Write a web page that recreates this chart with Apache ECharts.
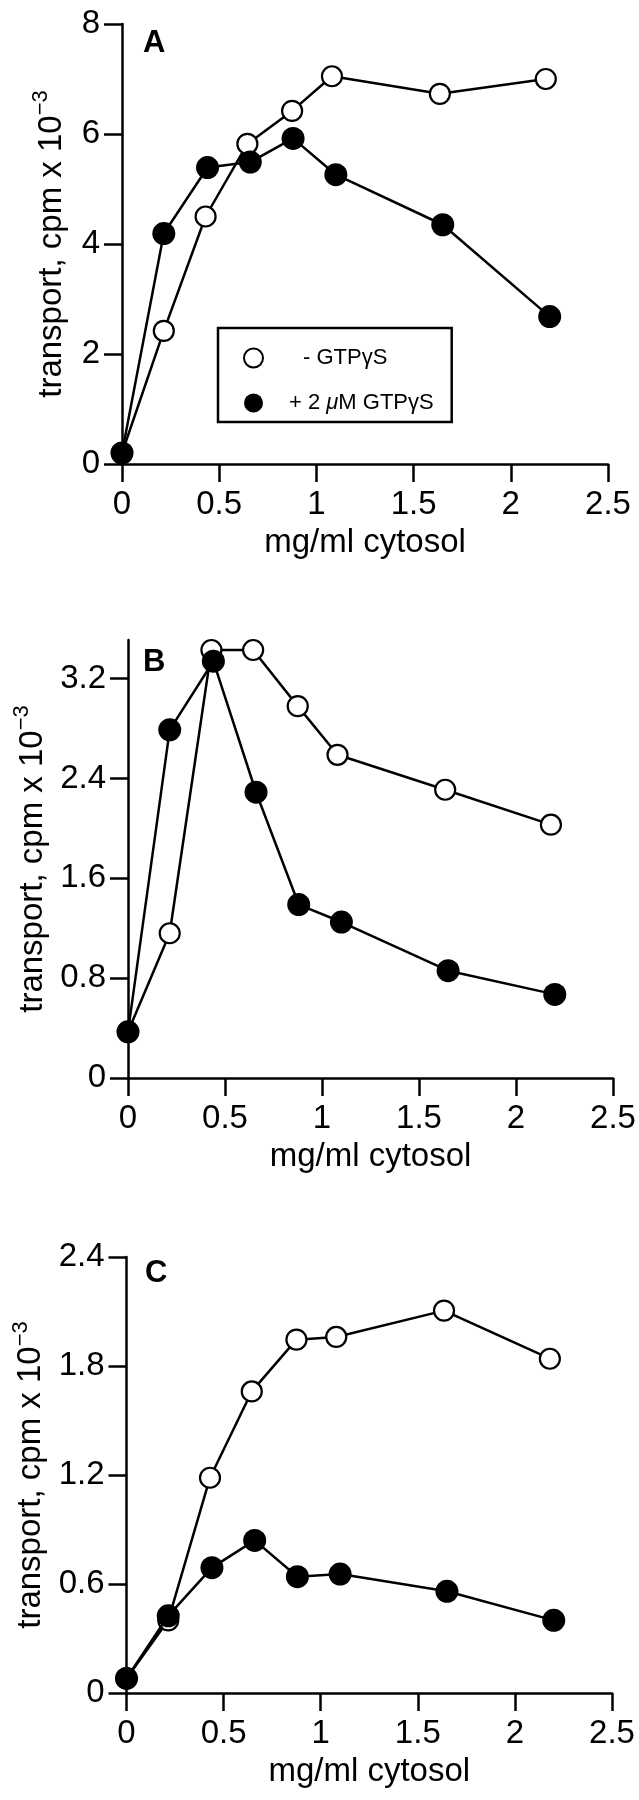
<!DOCTYPE html>
<html>
<head>
<meta charset="utf-8">
<script src="https://cdn.jsdelivr.net/npm/echarts@6/dist/echarts.min.js"></script>
<style>html,body{margin:0;padding:0;background:#fff;}#c{width:639px;height:1800px;}</style>
</head>
<body>
<div id="c"></div>
<script>
// x: cytosol concentration (mg/ml)
const doseOpen   = [0, 0.215, 0.43, 0.645, 0.875, 1.08, 1.635, 2.18];
const doseFilled = [0, 0.215, 0.44, 0.66, 0.88, 1.10, 1.65, 2.2];
// series values (transport, cpm x 10^-3)
const openA   = [0.2, 2.42, 4.5, 5.82, 6.42, 7.05, 6.73, 7.0];
const filledA = [0.2, 4.19, 5.39, 5.49, 5.92, 5.26, 4.35, 2.68];
const openB   = [0.37, 1.16, 3.43, 3.43, 2.98, 2.59, 2.31, 2.03];
const filledB = [0.37, 2.79, 3.34, 2.29, 1.39, 1.25, 0.86, 0.67];
const openC   = [0.08, 0.40, 1.185, 1.66, 1.945, 1.96, 2.105, 1.84];
const filledC = [0.08, 0.425, 0.69, 0.84, 0.64, 0.655, 0.56, 0.40];
// tick values
const xTicks  = [0, 0.5, 1, 1.5, 2, 2.5];
const yTicksA = [0, 2, 4, 6, 8];
const yTicksB = [0, 0.8, 1.6, 2.4, 3.2];
const yTicksC = [0, 0.6, 1.2, 1.8, 2.4];
const seriesNames = ['- GTPγS', '+ 2 μM GTPγS'];
const panelLabels = ['A', 'B', 'C'];

const FONT = 'Liberation Sans';
const chart = echarts.init(document.getElementById('c'), null, {renderer: 'canvas'});

const grids = [
  {left: 122, top: 24, width: 486, height: 440},
  {left: 128, top: 640, width: 485, height: 438},
  {left: 126.5, top: 1257, width: 485.5, height: 436}
];
const yMax = [8, 3.51, 2.4];
const yTicks = [yTicksA, yTicksB, yTicksC];
const openData = [openA, openB, openC];
const filledData = [filledA, filledB, filledC];

const axisLine = {show: true, lineStyle: {color: '#000', width: 2.5}};
const axisTick = {show: true, length: 18, lineStyle: {color: '#000', width: 2.5}};

const xAxis = grids.map((g, i) => ({
  type: 'value', gridIndex: i, min: 0, max: 2.5, interval: 0.5,
  axisLine: axisLine, splitLine: {show: false},
  axisTick: Object.assign({}, axisTick, {customValues: xTicks}),
  axisLabel: {customValues: xTicks, color: '#000', fontFamily: FONT, fontSize: 33, margin: 24},
  name: 'mg/ml cytosol', nameLocation: 'middle', nameGap: 62,
  nameTextStyle: {color: '#000', fontFamily: FONT, fontSize: 33}
}));

const yAxis = grids.map((g, i) => ({
  type: 'value', gridIndex: i, min: 0, max: yMax[i],
  axisLine: axisLine, splitLine: {show: false},
  axisTick: Object.assign({}, axisTick, {customValues: yTicks[i]}),
  axisLabel: {customValues: yTicks[i], color: '#000', fontFamily: FONT, fontSize: 33, margin: 22},
  name: '{a|transport, cpm x 10}{b|−3}', nameLocation: 'middle', nameGap: 54,
  nameTextStyle: {
    color: '#000', fontFamily: FONT, fontSize: 33,
    rich: {
      a: {fontFamily: FONT, fontSize: 33, color: '#000', lineHeight: 38, verticalAlign: 'bottom'},
      b: {fontFamily: FONT, fontSize: 22, color: '#000', verticalAlign: 'top'}
    }
  }
}));

const series = [];
grids.forEach((g, i) => {
  series.push({
    name: seriesNames[0], type: 'line', xAxisIndex: i, yAxisIndex: i,
    data: doseOpen.map((x, k) => [x, openData[i][k]]),
    symbol: 'circle', symbolSize: 20,
    lineStyle: {color: '#000', width: 2.5},
    itemStyle: {color: '#fff', borderColor: '#000', borderWidth: 2.2},
    z: 2, animation: false
  });
  series.push({
    name: seriesNames[1], type: 'line', xAxisIndex: i, yAxisIndex: i,
    data: doseFilled.map((x, k) => [x, filledData[i][k]]),
    symbol: 'circle', symbolSize: 23,
    lineStyle: {color: '#000', width: 2.5},
    itemStyle: {color: '#000', borderColor: '#000', borderWidth: 0},
    z: 3, animation: false
  });
});

const option = {
  backgroundColor: '#fff',
  animation: false,
  grid: grids.map(g => Object.assign({containLabel: false, outerBoundsMode: 'none'}, g)),
  xAxis: xAxis,
  yAxis: yAxis,
  legend: {
    left: 218, top: 328, orient: 'vertical',
    padding: [19, 18, 8, 25], itemGap: 23,
    itemWidth: 19, itemHeight: 19,
    borderColor: '#000', borderWidth: 2.5, backgroundColor: '#fff',
    selectedMode: false,
    formatter: name => name.replace('μ', '{i|μ}'),
    textStyle: {
      color: '#000', fontFamily: FONT, fontSize: 22,
      rich: {i: {color: '#000', fontFamily: FONT, fontSize: 22, fontStyle: 'italic'}}
    },
    data: [
      {name: seriesNames[0], icon: 'circle',
       itemStyle: {color: '#fff', borderColor: '#000', borderWidth: 2},
       textStyle: {padding: [0, 0, 0, 35]}},
      {name: seriesNames[1], icon: 'circle',
       itemStyle: {color: '#000', borderColor: '#000', borderWidth: 0},
       textStyle: {padding: [0, 0, 0, 21]}}
    ]
  },
  graphic: [
    {type: 'text', left: 143, top: 28, style: {text: panelLabels[0], font: 'bold 31px "Liberation Sans"', fill: '#000'}},
    {type: 'text', left: 143, top: 647, style: {text: panelLabels[1], font: 'bold 31px "Liberation Sans"', fill: '#000'}},
    {type: 'text', left: 145, top: 1258, style: {text: panelLabels[2], font: 'bold 31px "Liberation Sans"', fill: '#000'}}
  ],
  series: series
};
chart.setOption(option);
</script>
</body>
</html>
